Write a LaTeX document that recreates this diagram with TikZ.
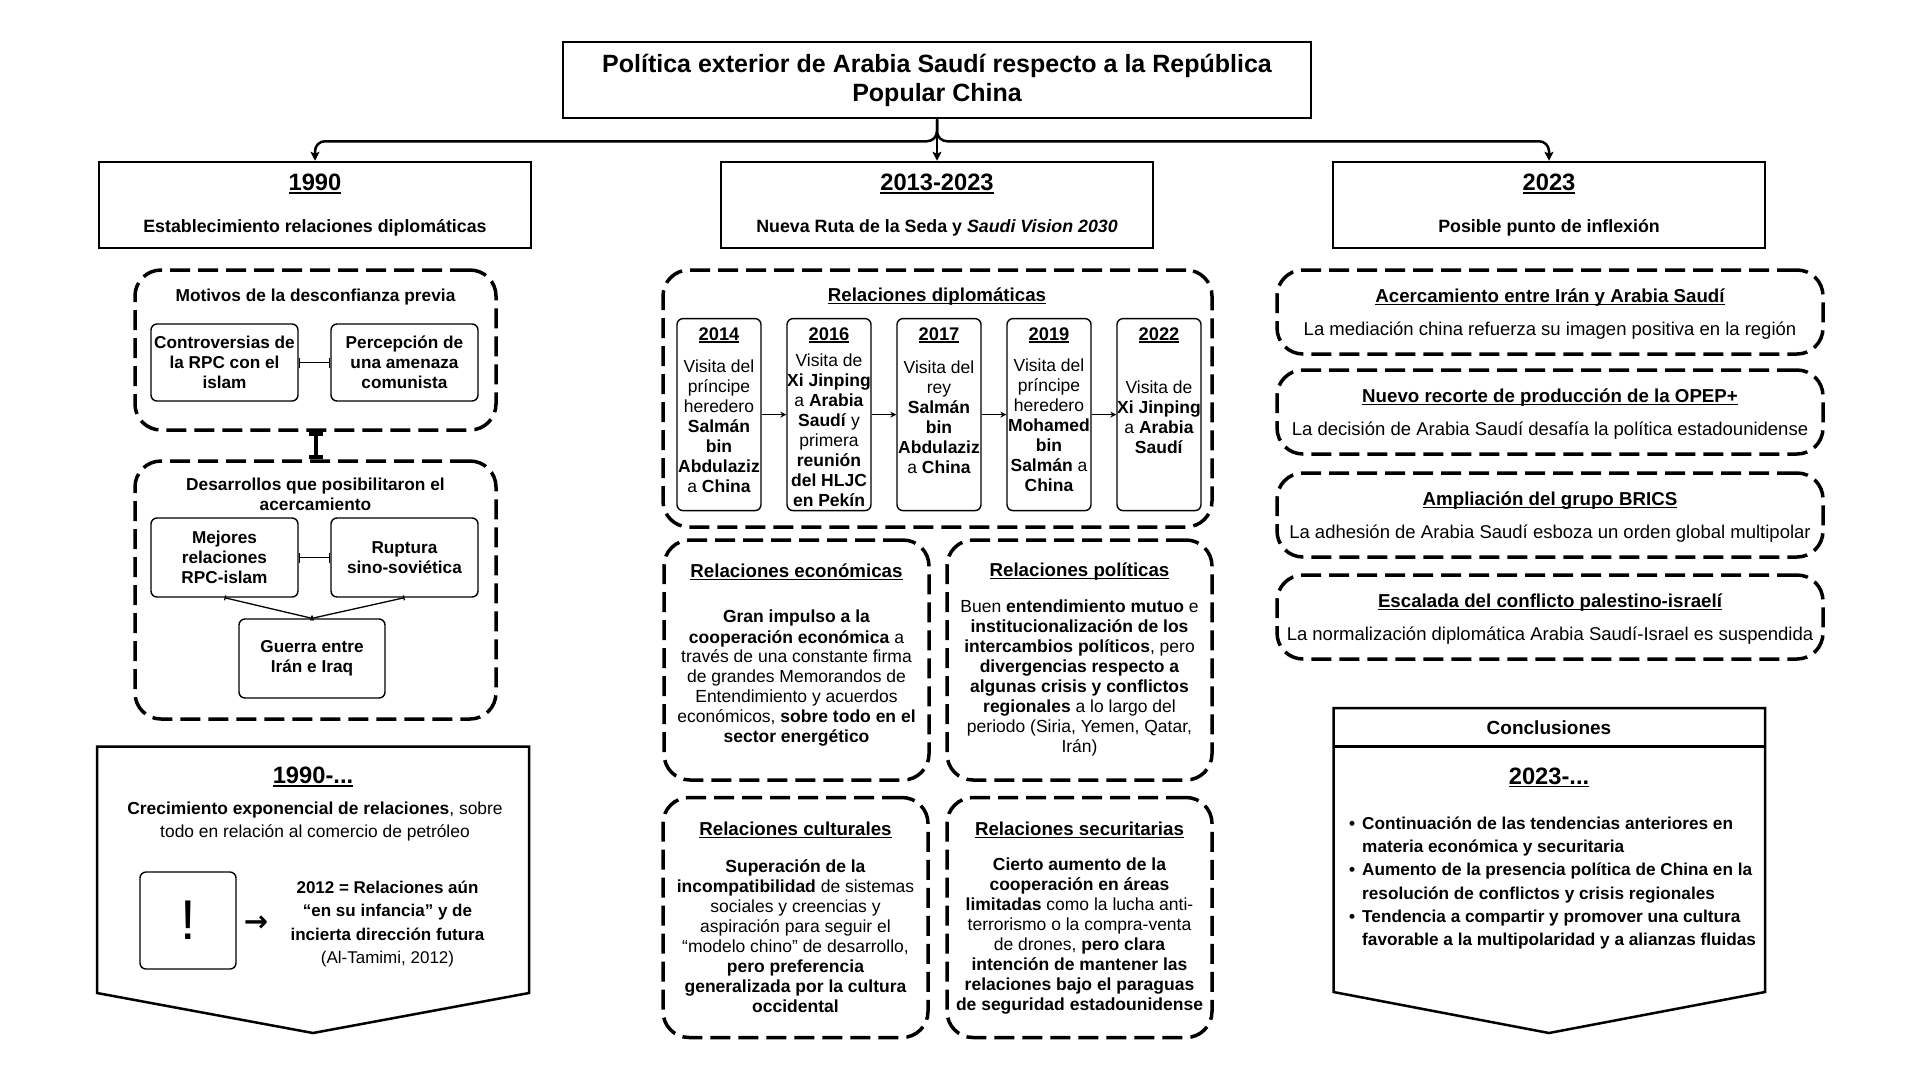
\documentclass[tikz,border=0pt]{standalone}
\usepackage{fontspec}
\setmainfont{Liberation Sans}
\newfontfamily\flechas{DejaVu Sans}
\usetikzlibrary{arrows.meta}

\newcommand\tam[2]{\fontsize{#1}{#2}\selectfont}
\newcommand\subr[1]{\setbox0\hbox{#1}\rlap{\rule[-0.13em]{\wd0}{0.075em}}\box0}
\newcommand\vin{\llap{\textbullet\hspace{7pt}}}

\tikzset{
	caja/.style={draw, line width=2.5pt, minimum width=432pt, minimum height=86pt},
	discont/.style={draw, line width=3.5pt, rounded corners=26pt, dash pattern=on 20pt off 8pt},
	cajita/.style={draw, line width=1.4pt, rounded corners=6pt, align=center, inner sep=0pt, font=\tam{17.2}{20}\bfseries},
	hito/.style={draw, line width=1.4pt, rounded corners=6pt, minimum width=84pt, minimum height=192pt},
	anio/.style={inner sep=0pt, font=\tam{23.7}{28}\bfseries},
	aniohito/.style={inner sep=0pt, font=\tam{18.3}{20}\bfseries},
	cuerpo/.style={inner sep=0pt, align=center, font=\tam{17.5}{20}},
	subtit/.style={inner sep=0pt, font=\tam{18.7}{22}\bfseries},
	lema/.style={inner sep=0pt, font=\tam{18.5}{22}},
	conector/.style={line width=2.5pt, -{Stealth[length=9pt,width=9pt,inset=2pt]}},
	barras/.style={line width=1.4pt, {Bar[width=10pt]}-{Bar[width=10pt]}},
	tbarra/.style={line width=4pt, {Bar[width=14pt]}-{Bar[width=14pt]}},
	fina/.style={line width=1.3pt, {Bar[width=5pt]}-{Bar[width=5pt]}},
	flechita/.style={line width=1.4pt, -{Stealth[length=6pt,width=6pt]}},
	contorno/.style={line width=2.5pt, line join=miter}
}

\begin{document}
\begin{tikzpicture}[x=1pt,y=-1pt]
	\fill[white] (0,0) rectangle (1920,1080);
	\useasboundingbox (0,0) rectangle (1920,1080);

	\node[caja, minimum width=748pt, minimum height=76pt, align=center, font=\tam{25}{29}\bfseries] (titulo) at (937,80) {Política exterior de Arabia Saudí respecto a la República\\Popular China};

	\node[caja] (p1990) at (315,205) {};
	\node[anio] (a1990) at (315,184) {\subr{1990}};
	\node[inner sep=0pt, font=\tam{17.8}{20}\bfseries] (s1990) at (315,228) {Establecimiento relaciones diplomáticas};
	\node[caja] (p2013) at (937,205) {};
	\node[anio] (a2013) at (937,184) {\subr{2013-2023}};
	\node[inner sep=0pt, font=\tam{17.8}{20}\bfseries] (s2013) at (937,228) {Nueva Ruta de la Seda y \textit{Saudi Vision 2030}};
	\node[caja] (p2023) at (1549,205) {};
	\node[anio] (a2023) at (1549,184) {\subr{2023}};
	\node[inner sep=0pt, font=\tam{17.8}{20}\bfseries] (s2023) at (1549,228) {Posible punto de inflexión};

	\draw[conector, rounded corners=10pt] (titulo.south) -- ++(0,22) -| (p1990.north);
	\draw[conector] (titulo.south) -- (p2013.north);
	\draw[conector, rounded corners=10pt] (titulo.south) -- ++(0,22) -| (p2023.north);

	\node[discont, minimum width=361pt, minimum height=160pt] (motivos) at (315.5,350) {};
	\node[inner sep=0pt, font=\tam{17.3}{20}\bfseries] (tmotivos) at (315.5,297) {Motivos de la desconfianza previa};
	\node[cajita, minimum width=147pt, minimum height=77pt] (controv) at (224.5,362.5) {Controversias de\\la RPC con el\\islam};
	\node[cajita, minimum width=147pt, minimum height=77pt] (percep) at (404.5,362.5) {Percepción de\\una amenaza\\comunista};
	\draw[barras] (controv) -- (percep);

	\node[discont, minimum width=361pt, minimum height=258pt] (desarr) at (315.5,590) {};
	\draw[tbarra] (motivos.south) -- (desarr.north);
	\node[inner sep=0pt, align=center, font=\tam{17.3}{20}\bfseries] (tdesarr) at (315.5,494) {Desarrollos que posibilitaron el\\acercamiento};
	\node[cajita, minimum width=147pt, minimum height=79pt] (mejores) at (224.5,557.5) {Mejores\\relaciones\\RPC-islam};
	\node[cajita, minimum width=147pt, minimum height=79pt] (ruptura) at (404.5,557.5) {Ruptura\\sino-soviética};
	\node[cajita, minimum width=146pt, minimum height=79pt] (guerra) at (312,658.5) {Guerra entre\\Irán e Iraq};
	\draw[barras] (mejores) -- (ruptura);
	\draw[fina] (mejores.south) -- (guerra.north);
	\draw[fina] (ruptura.south) -- (guerra.north);

	\draw[contorno] (97,746.6) -- (529,746.6) -- (529,993) -- (313,1033) -- (97,993) -- cycle;
	\node[anio] (a1990b) at (313,777) {\subr{1990-...}};
	\node[cuerpo, font=\tam{17.4}{23}] (crec) at (315,821.5) {\textbf{Crecimiento exponencial de relaciones}, sobre\\todo en relación al comercio de petróleo};
	\node[cajita, minimum width=96pt, minimum height=97pt, font=\tam{56}{60}\mdseries] (aviso) at (188,920.5) {!};
	\node[inner sep=0pt, font=\flechas\tam{29}{30}\bfseries] (flecha) at (256,924) {→};
	\node[cuerpo, font=\tam{17}{23.5}] (cita) at (387.5,924) {\textbf{2012 = Relaciones aún}\\\textbf{“en su infancia” y de}\\\textbf{incierta dirección futura}\\(Al-Tamimi, 2012)};

	\node[discont, minimum width=549pt, minimum height=257pt] (diplo) at (937.5,398.5) {};
	\node[subtit] (tdiplo) at (937,297) {\subr{Relaciones diplomáticas}};
	\node[hito] (h2014) at (719,414.6) {};
	\node[hito] (h2016) at (829,414.6) {};
	\node[hito] (h2017) at (939,414.6) {};
	\node[hito] (h2019) at (1049,414.6) {};
	\node[hito] (h2022) at (1159,414.6) {};
	\node[aniohito] (a2014) at (719,335) {\subr{2014}};
	\node[aniohito] (a2016) at (829,335) {\subr{2016}};
	\node[aniohito] (a2017) at (939,335) {\subr{2017}};
	\node[aniohito] (a2019) at (1049,335) {\subr{2019}};
	\node[aniohito] (a2022) at (1159,335) {\subr{2022}};
	\node[cuerpo] (c2014) at (719,426) {Visita del\\príncipe\\heredero\\\textbf{Salmán}\\\textbf{bin}\\\textbf{Abdulaziz}\\a \textbf{China}};
	\node[cuerpo] (c2016) at (829,430) {Visita de\\\textbf{Xi Jinping}\\a \textbf{Arabia}\\\textbf{Saudí} y\\primera\\\textbf{reunión}\\\textbf{del HLJC}\\\textbf{en Pekín}};
	\node[cuerpo] (c2017) at (939,417.5) {Visita del\\rey\\\textbf{Salmán}\\\textbf{bin}\\\textbf{Abdulaziz}\\a \textbf{China}};
	\node[cuerpo] (c2019) at (1049,425) {Visita del\\príncipe\\heredero\\\textbf{Mohamed}\\\textbf{bin}\\\textbf{Salmán} a\\\textbf{China}};
	\node[cuerpo] (c2022) at (1159,417) {Visita de\\\textbf{Xi Jinping}\\a \textbf{Arabia}\\\textbf{Saudí}};
	\draw[flechita] (h2014) -- (h2016);
	\draw[flechita] (h2016) -- (h2017);
	\draw[flechita] (h2017) -- (h2019);
	\draw[flechita] (h2019) -- (h2022);

	\node[discont, minimum width=265pt, minimum height=240pt] (econ) at (796.5,660) {};
	\node[subtit] (teco) at (796.5,572) {\subr{Relaciones económicas}};
	\node[cuerpo] (ceco) at (796.5,678.5) {\textbf{Gran impulso a la}\\\textbf{cooperación económica} a\\través de una constante firma\\de grandes Memorandos de\\Entendimiento y acuerdos\\económicos, \textbf{sobre todo en el}\\\textbf{sector energético}};
	\node[discont, minimum width=265pt, minimum height=240pt] (poli) at (1079.5,660) {};
	\node[subtit] (tpoli) at (1079.5,572) {\subr{Relaciones políticas}};
	\node[cuerpo] (cpoli) at (1079.5,678) {Buen \textbf{entendimiento mutuo} e\\\textbf{institucionalización de los}\\\textbf{intercambios políticos}, pero\\\textbf{divergencias respecto a}\\\textbf{algunas crisis y conflictos}\\\textbf{regionales} a lo largo del\\periodo (Siria, Yemen, Qatar,\\Irán)};
	\node[discont, minimum width=265pt, minimum height=240pt] (cult) at (795.5,917.5) {};
	\node[subtit] (tcult) at (795.5,830) {\subr{Relaciones culturales}};
	\node[cuerpo] (ccult) at (795.5,936) {\textbf{Superación de la}\\\textbf{incompatibilidad} de sistemas\\sociales y creencias y\\aspiración para seguir el\\“modelo chino” de desarrollo,\\\textbf{pero preferencia}\\\textbf{generalizada por la cultura}\\\textbf{occidental}};
	\node[discont, minimum width=265pt, minimum height=240pt] (secu) at (1079.5,917.5) {};
	\node[subtit] (tsecu) at (1079.5,830) {\subr{Relaciones securitarias}};
	\node[cuerpo] (csecu) at (1079.5,936) {\textbf{Cierto aumento de la}\\\textbf{cooperación en áreas}\\\textbf{limitadas} como la lucha anti-\\terrorismo o la compra-venta\\de drones, \textbf{pero clara}\\\textbf{intención de mantener las}\\\textbf{relaciones bajo el paraguas}\\\textbf{de seguridad estadounidense}};

	\node[discont, minimum width=546pt, minimum height=84pt] (acerca) at (1550,312) {};
	\node[subtit] (tacerca) at (1550,298) {\subr{Acercamiento entre Irán y Arabia Saudí}};
	\node[lema] (lacerca) at (1550,330.5) {La mediación china refuerza su imagen positiva en la región};
	\node[discont, minimum width=546pt, minimum height=84pt] (opep) at (1550,412) {};
	\node[subtit] (topep) at (1550,398) {\subr{Nuevo recorte de producción de la OPEP+}};
	\node[lema] (lopep) at (1550,430.5) {La decisión de Arabia Saudí desafía la política estadounidense};
	\node[discont, minimum width=546pt, minimum height=84pt] (brics) at (1550,515) {};
	\node[subtit] (tbrics) at (1550,501) {\subr{Ampliación del grupo BRICS}};
	\node[lema] (lbrics) at (1550,533.5) {La adhesión de Arabia Saudí esboza un orden global multipolar};
	\node[discont, minimum width=546pt, minimum height=84pt] (escal) at (1550,617) {};
	\node[subtit] (tescal) at (1550,603) {\subr{Escalada del conflicto palestino-israelí}};
	\node[lema] (lescal) at (1550,635.5) {La normalización diplomática Arabia Saudí-Israel es suspendida};

	\draw[contorno] (1333.5,708) -- (1765,708) -- (1765,992) -- (1549,1033) -- (1333.5,992) -- cycle;
	\draw[contorno] (1333.5,746.6) -- (1765,746.6);
	\node[inner sep=0pt, font=\tam{19}{22}\bfseries] (tconcl) at (1549,727.7) {Conclusiones};
	\node[anio] (a2023b) at (1549,777.6) {\subr{2023-...}};
	\node[anchor=west, inner sep=0pt, align=left, font=\tam{17.2}{23.2}\bfseries] (vinetas) at (1362,883) {\vin Continuación de las tendencias anteriores en\\materia económica y securitaria\\\vin Aumento de la presencia política de China en la\\resolución de conflictos y crisis regionales\\\vin Tendencia a compartir y promover una cultura\\favorable a la multipolaridad y a alianzas fluidas};
\end{tikzpicture}
\end{document}
